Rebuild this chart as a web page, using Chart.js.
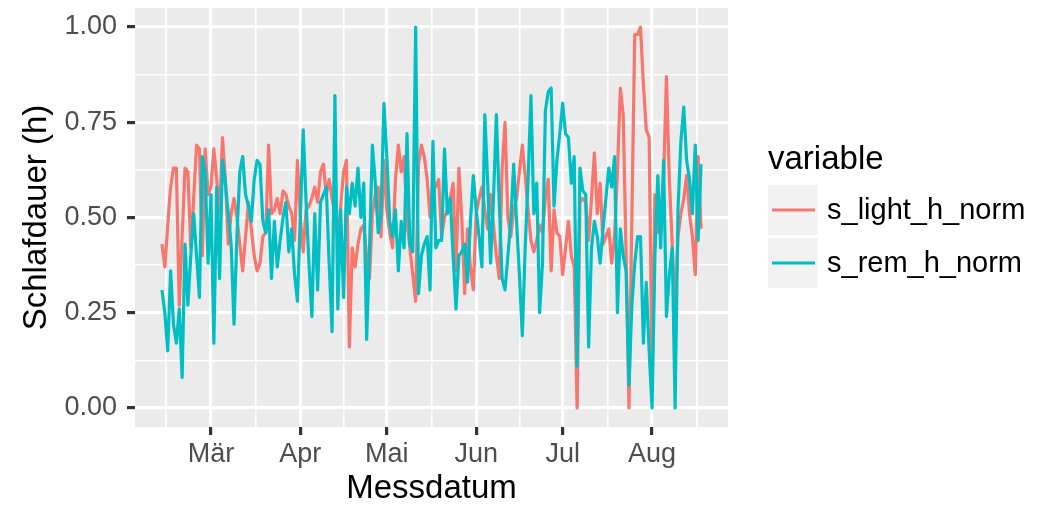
<!DOCTYPE html>
<html>
<head>
<meta charset="utf-8">
<title>Schlafdauer</title>
<script src="https://cdn.jsdelivr.net/npm/chart.js@4.4.1/dist/chart.umd.min.js"></script>
<style>
  html, body { margin: 0; padding: 0; background: #ffffff; }
  #wrap { width: 1043px; height: 505px; }
</style>
</head>
<body>
<div id="wrap"><canvas id="sleepChart" width="1043" height="505"></canvas></div>
<script>
// measurement period: one value per night
const firstDay = Date.UTC(2017, 1, 12);
const dayCount = 188;

const monthNames = ['Mär', 'Apr', 'Mai', 'Jun', 'Jul', 'Aug'];
const monthFirsts = [
  Date.UTC(2017, 2, 1), Date.UTC(2017, 3, 1), Date.UTC(2017, 4, 1),
  Date.UTC(2017, 5, 1), Date.UTC(2017, 6, 1), Date.UTC(2017, 7, 1)
];
const yBreaks = [0, 0.25, 0.5, 0.75, 1];

const seriesNames = ['s_light_h_norm', 's_rem_h_norm'];
const seriesColors = ['#F8766D', '#00BFC4'];

const lightNorm = [
  0.43, 0.37, 0.48, 0.58, 0.63, 0.63, 0.27, 0.45, 0.63, 0.62,
  0.42, 0.55, 0.69, 0.68, 0.40, 0.68, 0.56, 0.58, 0.68, 0.60,
  0.51, 0.71, 0.60, 0.43, 0.51, 0.55, 0.50, 0.43, 0.36, 0.45,
  0.54, 0.47, 0.40, 0.36, 0.38, 0.45, 0.46, 0.69, 0.51, 0.52,
  0.55, 0.51, 0.57, 0.56, 0.53, 0.51, 0.44, 0.65, 0.50, 0.41,
  0.52, 0.53, 0.55, 0.58, 0.54, 0.62, 0.64, 0.56, 0.60, 0.55,
  0.51, 0.44, 0.53, 0.62, 0.65, 0.16, 0.42, 0.37, 0.43, 0.47,
  0.48, 0.40, 0.34, 0.51, 0.56, 0.58, 0.45, 0.65, 0.52, 0.46,
  0.42, 0.60, 0.69, 0.62, 0.66, 0.49, 0.42, 0.35, 0.28, 0.64,
  0.69, 0.66, 0.60, 0.50, 0.59, 0.58, 0.60, 0.45, 0.50, 0.52,
  0.55, 0.59, 0.36, 0.63, 0.50, 0.30, 0.47, 0.37, 0.31, 0.51,
  0.55, 0.58, 0.52, 0.47, 0.56, 0.48, 0.40, 0.34, 0.63, 0.75,
  0.50, 0.45, 0.52, 0.55, 0.62, 0.69, 0.61, 0.52, 0.44, 0.41,
  0.44, 0.48, 0.46, 0.55, 0.60, 0.36, 0.52, 0.46, 0.45, 0.35,
  0.42, 0.49, 0.40, 0.37, 0.00, 0.54, 0.55, 0.54, 0.44, 0.55,
  0.67, 0.51, 0.59, 0.43, 0.45, 0.47, 0.38, 0.45, 0.62, 0.84,
  0.77, 0.40, 0.00, 0.50, 0.98, 0.98, 1.00, 0.85, 0.73, 0.71,
  0.10, 0.56, 0.46, 0.51, 0.60, 0.87, 0.60, 0.43, 0.25, 0.45,
  0.51, 0.55, 0.61, 0.51, 0.45, 0.35, 0.66, 0.47
];

const remNorm = [
  0.31, 0.25, 0.15, 0.36, 0.22, 0.17, 0.26, 0.08, 0.43, 0.27,
  0.40, 0.51, 0.40, 0.29, 0.66, 0.62, 0.38, 0.56, 0.17, 0.58,
  0.34, 0.65, 0.59, 0.51, 0.43, 0.22, 0.45, 0.62, 0.66, 0.56,
  0.53, 0.49, 0.60, 0.65, 0.64, 0.49, 0.46, 0.52, 0.34, 0.49,
  0.37, 0.44, 0.50, 0.54, 0.41, 0.47, 0.35, 0.28, 0.50, 0.73,
  0.54, 0.38, 0.24, 0.51, 0.31, 0.54, 0.56, 0.58, 0.38, 0.20,
  0.82, 0.26, 0.52, 0.29, 0.58, 0.51, 0.59, 0.53, 0.63, 0.50,
  0.59, 0.18, 0.42, 0.69, 0.59, 0.46, 0.51, 0.80, 0.66, 0.49,
  0.45, 0.52, 0.36, 0.49, 0.42, 0.72, 0.43, 0.41, 1.00, 0.30,
  0.40, 0.43, 0.45, 0.31, 0.70, 0.42, 0.44, 0.44, 0.68, 0.51,
  0.55, 0.40, 0.26, 0.40, 0.41, 0.43, 0.33, 0.49, 0.61, 0.52,
  0.45, 0.37, 0.77, 0.59, 0.38, 0.55, 0.77, 0.54, 0.34, 0.31,
  0.40, 0.49, 0.64, 0.49, 0.35, 0.19, 0.42, 0.60, 0.82, 0.51,
  0.59, 0.25, 0.38, 0.78, 0.83, 0.84, 0.53, 0.65, 0.72, 0.80,
  0.72, 0.71, 0.59, 0.66, 0.11, 0.63, 0.57, 0.56, 0.16, 0.42,
  0.49, 0.45, 0.38, 0.47, 0.55, 0.63, 0.58, 0.66, 0.25, 0.47,
  0.40, 0.36, 0.06, 0.27, 0.38, 0.45, 0.45, 0.17, 0.33, 0.15,
  0.00, 0.40, 0.61, 0.42, 0.65, 0.24, 0.35, 0.42, 0.00, 0.52,
  0.70, 0.79, 0.65, 0.60, 0.51, 0.69, 0.44, 0.64
];

const DAY = 86400000;
const FONT = '"Liberation Sans", Arial, sans-serif';

// x values are days since the first night
const dayIndex = [];
for (let i = 0; i < dayCount; i++) dayIndex.push(i);
const toDay = t => (t - firstDay) / DAY;

// ggplot-like 5% expansion
const xSpan = dayIndex[dayIndex.length - 1] - dayIndex[0];
const xMin = dayIndex[0] - 0.05 * xSpan;
const xMax = dayIndex[dayIndex.length - 1] + 0.05 * xSpan;

// major ticks at month starts, minor grid halfway between
const majorX = monthFirsts.map(toDay);
const xTicks = [];
const firstGap = majorX[1] - majorX[0];
const lastGap = majorX[majorX.length - 1] - majorX[majorX.length - 2];
xTicks.push({ value: majorX[0] - firstGap / 2, major: false });
majorX.forEach((v, i) => {
  xTicks.push({ value: v, major: true, label: monthNames[i] });
  if (i < majorX.length - 1) xTicks.push({ value: (v + majorX[i + 1]) / 2, major: false });
});
xTicks.push({ value: majorX[majorX.length - 1] + lastGap / 2, major: false });

const yTicks = [];
yBreaks.forEach((v, i) => {
  yTicks.push({ value: v, major: true });
  if (i < yBreaks.length - 1) yTicks.push({ value: (v + yBreaks[i + 1]) / 2, major: false });
});

const isMajor = c => c.tick && c.tick.major;

// keep the panel exactly where layout.padding puts it
const noLabelPadding = s => {
  s.paddingTop = 0; s.paddingBottom = 0;
  s.paddingLeft = 0; s.paddingRight = 0;
};

const panelBg = {
  id: 'panelBg',
  beforeDraw(chart) {
    const { ctx, chartArea: a } = chart;
    ctx.save();
    ctx.fillStyle = '#EBEBEB';
    ctx.fillRect(a.left, a.top, a.right - a.left, a.bottom - a.top);
    ctx.restore();
  }
};

// legend in the grey-key style, right of the panel
const keyLegend = {
  id: 'keyLegend',
  afterDraw(chart) {
    const ctx = chart.ctx;
    const x0 = 768, top = 185, key = 50, step = 53;
    ctx.save();
    ctx.fillStyle = '#000000';
    ctx.font = '33px ' + FONT;
    ctx.textAlign = 'left';
    ctx.textBaseline = 'alphabetic';
    ctx.fillText('variable', x0, 169);
    chart.data.datasets.forEach((ds, i) => {
      const y = top + i * step;
      ctx.fillStyle = '#F2F2F2';
      ctx.fillRect(x0, y, key, key);
      ctx.strokeStyle = ds.borderColor;
      ctx.lineWidth = 3.2;
      ctx.beginPath();
      ctx.moveTo(x0 + 4, y + key / 2);
      ctx.lineTo(x0 + key - 3, y + key / 2);
      ctx.stroke();
      ctx.fillStyle = '#000000';
      ctx.font = '29px ' + FONT;
      ctx.textBaseline = 'middle';
      ctx.fillText(ds.label, x0 + 59, y + key / 2 + 1);
      ctx.textBaseline = 'alphabetic';
    });
    ctx.restore();
  }
};

const series = [lightNorm, remNorm];

new Chart(document.getElementById('sleepChart'), {
  type: 'line',
  data: {
    datasets: series.map((vals, s) => ({
      label: seriesNames[s],
      data: vals.map((v, i) => ({ x: dayIndex[i], y: v })),
      borderColor: seriesColors[s],
      backgroundColor: seriesColors[s],
      borderWidth: 3.2,
      pointRadius: 0,
      tension: 0,
      borderJoinStyle: 'round',
      fill: false,
      order: seriesNames.length - s
    }))
  },
  options: {
    responsive: false,
    animation: false,
    devicePixelRatio: 1,
    layout: { padding: { top: 8, right: 315, bottom: 0, left: 0 } },
    plugins: {
      legend: { display: false },
      tooltip: { enabled: false }
    },
    scales: {
      x: {
        type: 'linear',
        min: xMin,
        max: xMax,
        afterBuildTicks: s => { s.ticks = xTicks.map(t => ({ ...t })); },
        afterFit: s => { s.height = 78; noLabelPadding(s); },
        border: { display: false },
        grid: {
          color: '#FFFFFF',
          lineWidth: c => isMajor(c) ? 3.2 : 1.6,
          tickLength: 8,
          tickWidth: 3.2,
          tickColor: c => isMajor(c) ? '#333333' : 'rgba(0,0,0,0)'
        },
        ticks: {
          autoSkip: false,
          maxRotation: 0,
          color: '#4D4D4D',
          font: { family: FONT, size: 27 },
          padding: 3,
          callback: (v, i, ticks) => ticks[i].major ? ticks[i].label : ''
        },
        title: {
          display: true,
          text: 'Messdatum',
          color: '#000000',
          font: { family: FONT, size: 33, lineHeight: 1 },
          padding: { top: 0, bottom: 0 }
        }
      },
      y: {
        min: -0.05,
        max: 1.05,
        afterBuildTicks: s => { s.ticks = yTicks.map(t => ({ ...t })); },
        afterFit: s => { s.width = 135; noLabelPadding(s); },
        border: { display: false },
        grid: {
          color: '#FFFFFF',
          lineWidth: c => isMajor(c) ? 3.2 : 1.6,
          tickLength: 8,
          tickWidth: 3.2,
          tickColor: c => isMajor(c) ? '#333333' : 'rgba(0,0,0,0)'
        },
        ticks: {
          autoSkip: false,
          color: '#4D4D4D',
          font: { family: FONT, size: 27 },
          padding: 10,
          callback: (v, i, ticks) => ticks[i].major ? v.toFixed(2) : ''
        },
        title: {
          display: true,
          text: 'Schlafdauer (h)',
          color: '#000000',
          font: { family: FONT, size: 33, lineHeight: 1 },
          padding: { top: 20, bottom: 0 }
        }
      }
    }
  },
  plugins: [panelBg, keyLegend]
});
</script>
</body>
</html>
